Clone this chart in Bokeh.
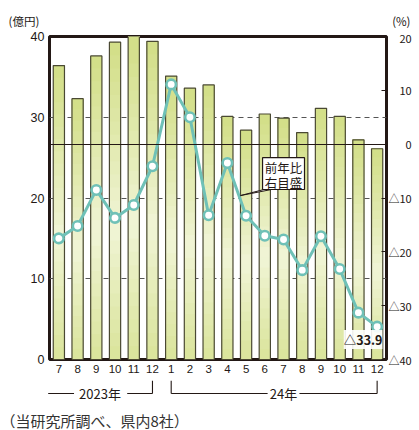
from bokeh.plotting import figure
from bokeh.models import Range1d, LinearAxis, FixedTicker, Grid, Label
from bokeh.layouts import column
from bokeh.embed import file_html
from bokeh.resources import INLINE
from bokeh.core.properties import value

# ---- data ----
months = ["7", "8", "9", "10", "11", "12", "1", "2", "3", "4", "5", "6",
          "7", "8", "9", "10", "11", "12"]
sales = [36.4, 32.3, 37.6, 39.3, 40.0, 39.4, 35.1, 33.6, 34.0, 30.1, 28.4, 30.4,
         29.9, 28.1, 31.1, 30.1, 27.2, 26.1]          # 億円 (left axis)
yoy = [-17.5, -15.2, -8.5, -13.7, -11.3, -4.1, 11.1, 5.0, -13.2, -3.5, -13.3, -17.0,
       -17.7, -23.4, -17.1, -23.2, -31.3, -33.9]      # 前年比 % (right axis)
left_ticks = [0, 10, 20, 30, 40]
right_ticks = [-40, -30, -20, -10, 0, 10, 20]
right_labels = ["△40", "△30", "△20", "△10", "\u3000\u20070", "\u300010", "\u300020"]
years = ["2023年", "24年"]
year_first = [0, 6]
year_last = [5, 17]
left_unit = "(億円)"
right_unit = "(%)"
callout = ["前年比", "右目盛"]
last_label = "△33.9"
note = "（当研究所調べ、県内8社）"

# ---- styling ----
W = 419
LB, RB = 49, 33
TOP_H = 29
INK = "#231815"
TEAL = "#6fc1b7"
JP = "Noto Sans CJK JP"
NUM = "Liberation Sans"
N = len(months)
xs = list(range(N))
unit = (W - LB - RB) / N


def strip(height):
    f = figure(width=W, height=height, x_axis_type=None, y_axis_type=None,
               x_range=Range1d(-0.5 - LB / unit, N - 0.5 + RB / unit),
               y_range=Range1d(height, 0), min_border=0,
               toolbar_location=None, output_backend="svg")
    f.frame_align = False
    f.outline_line_color = None
    f.grid.visible = False
    return f


# ---- top strip (units) ----
pt = strip(TOP_H)
pt.text(x=[-0.5 - (LB - 8) / unit], y=[20], text=[left_unit], text_font=value(JP),
        text_font_size="11.5px", text_color=INK, text_align="left",
        text_baseline="middle")
pt.text(x=[N - 0.5 + (410 - (W - RB)) / unit], y=[20], text=[right_unit],
        text_font=value(JP), text_font_size="11.5px", text_color=INK,
        text_align="right", text_baseline="middle")

# ---- main chart ----
p = figure(width=W, height=380 - TOP_H, x_range=Range1d(-0.5, N - 0.5),
           y_range=Range1d(0, 40), min_border_left=LB, min_border_right=RB,
           min_border_top=36 - TOP_H, min_border_bottom=21,
           toolbar_location=None, output_backend="svg")
p.frame_align = False
p.outline_line_color = INK
p.outline_line_width = 3
p.background_fill_color = "white"

p.xaxis.ticker = FixedTicker(ticks=xs)
p.xaxis.major_label_overrides = {i: m for i, m in enumerate(months)}
p.xaxis.axis_line_color = None
p.xaxis.major_tick_in = 0
p.xaxis.major_tick_out = 0
p.xaxis.major_label_standoff = 5
p.xaxis.major_label_text_font = NUM
p.xaxis.major_label_text_font_size = "11.5px"
p.xaxis.major_label_text_color = INK

p.yaxis.ticker = FixedTicker(ticks=left_ticks)
p.yaxis.axis_line_color = None
p.yaxis.major_tick_in = 0
p.yaxis.major_tick_out = 0
p.yaxis.minor_tick_line_color = None
p.yaxis.major_label_standoff = 5
p.yaxis.major_label_text_font = NUM
p.yaxis.major_label_text_font_size = "12.5px"
p.yaxis.major_label_text_color = INK

p.extra_y_ranges = {"pct": Range1d(-40, 20)}
ra = LinearAxis(y_range_name="pct", ticker=FixedTicker(ticks=right_ticks),
                major_label_overrides=dict(zip(right_ticks, right_labels)))
ra.axis_line_color = None
ra.major_tick_in = 5
ra.major_tick_out = 0
ra.major_tick_line_color = INK
ra.major_tick_line_width = 1.2
ra.minor_tick_line_color = None
ra.major_label_standoff = 2
ra.major_label_text_font = JP
ra.major_label_text_font_size = "11px"
ra.major_label_text_color = INK
p.add_layout(ra, "right")

p.xgrid.visible = False
p.ygrid.ticker = FixedTicker(ticks=[10, 20, 30])
p.ygrid.grid_line_color = "#555555"
p.ygrid.grid_line_dash = "5 4"
p.ygrid.grid_line_width = 1

# bars with vertical gradient (bands derived from each bar's height)
NB = 24
dark = (0xd2, 0xde, 0x86)
light = (0xf1, 0xf5, 0xd8)
for k in range(NB):
    t = (k + 0.5) / NB
    f = min(1.0, abs(t - 0.42) / 0.58) ** 0.9
    c = tuple(int(round(light[j] + (dark[j] - light[j]) * f)) for j in range(3))
    col = "#%02x%02x%02x" % c
    p.vbar(x=xs, width=0.6, bottom=[v * k / NB for v in sales], top=sales,
           fill_color=col, line_color=None)
p.vbar(x=xs, width=0.6, bottom=0, top=sales, fill_color=None,
       line_color="#4a4933", line_width=1.2)

# zero line of right axis
p.add_layout(Grid(dimension=1, ticker=FixedTicker(ticks=[0]), y_range_name="pct",
                  grid_line_color=INK, grid_line_width=1.2, level="guide"), "center")

# year-on-year line
p.line(xs, yoy, y_range_name="pct", line_color=TEAL, line_width=3)
p.scatter(xs, yoy, y_range_name="pct", size=9.5, fill_color="white",
          line_color=TEAL, line_width=2.6)

# callout box
p.patch([10.95, 11.35, 9.7], [21.05, 21.05, 20.3], fill_color="white",
        line_color=INK, line_width=1)
p.quad(left=[10.88], right=[13.12], top=[25.0], bottom=[21.05], fill_color="white",
       line_color=INK, line_width=1.2)
p.text(x=[12.0, 12.0], y=[23.8, 21.95], text=callout, text_font=value(JP),
       text_font_size="12.5px", text_color=INK, text_align="center",
       text_baseline="middle")

p.add_layout(Label(x=16.25, y=2.48, text=last_label, text_align="center",
                   text_baseline="middle", text_font=JP, text_font_size="12.5px",
                   text_font_style="bold", text_color=INK,
                   background_fill_color="white", background_fill_alpha=0.9))

# ---- bottom strip (year brackets + source) ----
pb = strip(50)
BY = 13
pb.segment(x0=[-0.57, 3.65, year_last[0]], y0=[BY, BY, 0],
           x1=[0.81, year_last[0], year_last[0]], y1=[BY, BY, BY],
           line_color=INK, line_width=1.1)
pb.segment(x0=[year_first[1], 12.85, year_first[1], year_last[1]], y0=[BY, BY, 0, 0],
           x1=[11.15, year_last[1], year_first[1], year_last[1]], y1=[BY, BY, BY, BY],
           line_color=INK, line_width=1.1)
pb.text(x=[2.2, 12.0], y=[BY, BY], text=years, text_font=value(JP),
        text_font_size="13px", text_color=INK, text_align="center",
        text_baseline="middle")
pb.text(x=[-0.5 - LB / unit], y=[40], text=[note], text_font=value(JP),
        text_font_size="15px", text_color="#333333", text_align="left",
        text_baseline="middle")

layout = column(pt, p, pb, spacing=0)
open("out.html", "w").write(file_html(layout, INLINE))
